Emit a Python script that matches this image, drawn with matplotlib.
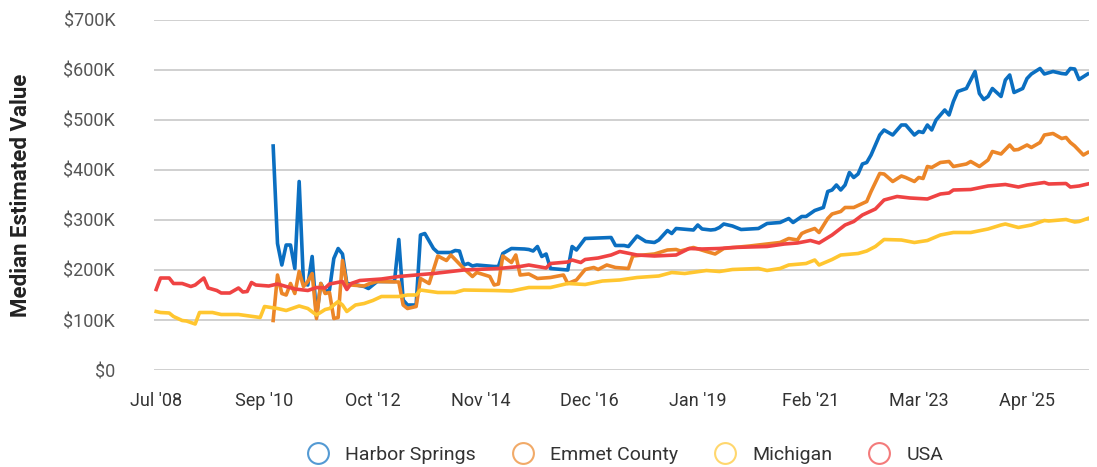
import matplotlib
matplotlib.use("Agg")
import matplotlib.pyplot as plt
from matplotlib.lines import Line2D
from matplotlib.ticker import FuncFormatter

plt.rcParams["font.family"] = ["Roboto", "DejaVu Sans"]

# x values are months since Jul 2008, y values in $K
harbor_month = [27, 28, 29, 30, 31, 32, 33, 34, 35, 36, 37, 38, 39, 40, 41, 42, 43, 44, 45, 48,
                49, 51, 55, 56, 57, 58, 60, 61, 62, 64, 65, 68, 69, 70, 71, 72, 73, 74, 78, 79,
                80, 82, 85, 86, 87, 88, 89, 90, 91, 95, 96, 97, 99, 105, 106, 108, 109, 111, 113, 115,
                116, 118, 119, 120, 124, 125, 126, 128, 129, 130, 131, 133, 135, 139, 141, 144, 146, 147, 149, 150,
                152, 154, 155, 156, 157, 158, 159, 160, 161, 162, 163, 164, 165, 167, 168, 170, 172, 173, 175, 176,
                177, 178, 179, 180, 181, 182, 183, 184, 185, 187, 189, 190, 191, 192, 193, 195, 196, 197, 198, 200,
                201, 202, 204, 205, 207, 209, 210, 211, 212, 213, 215]
harbor_value = [448, 253, 210, 250, 250, 203, 377, 173, 170, 227, 107, 173, 157, 160, 223, 243, 232, 173, 172, 167,
                163, 177, 177, 261, 140, 130, 130, 270, 273, 243, 235, 235, 239, 238, 210, 213, 208, 210, 207, 207,
                233, 243, 242, 241, 238, 247, 227, 232, 203, 200, 247, 240, 263, 265, 249, 249, 247, 268, 257, 255,
                260, 279, 273, 283, 280, 290, 282, 280, 281, 285, 292, 288, 281, 283, 293, 295, 303, 295, 307, 307,
                319, 325, 357, 360, 370, 360, 370, 395, 385, 392, 412, 415, 430, 470, 480, 470, 490, 490, 470, 477,
                475, 490, 480, 500, 510, 520, 510, 537, 557, 563, 597, 553, 541, 547, 563, 547, 580, 590, 555, 563,
                583, 592, 603, 592, 597, 593, 592, 603, 602, 581, 592]

emmet_month = [27, 28, 29, 30, 31, 32, 33, 34, 35, 36, 37, 38, 39, 40, 41, 42, 43, 44, 45, 48,
               49, 51, 56, 57, 58, 60, 61, 63, 65, 67, 68, 71, 73, 74, 77, 78, 79, 80, 82, 83,
               84, 86, 88, 91, 94, 95, 97, 99, 101, 102, 104, 106, 109, 110, 115, 118, 120, 121, 124, 127,
               129, 131, 137, 141, 144, 146, 148, 149, 150, 152, 153, 155, 156, 158, 159, 161, 164, 165, 167, 168,
               170, 172, 173, 175, 176, 177, 178, 179, 181, 183, 184, 187, 188, 190, 192, 193, 195, 197, 198, 199,
               201, 202, 204, 205, 207, 209, 210, 211, 212, 214, 215]
emmet_value = [99, 190, 153, 150, 173, 153, 197, 167, 177, 193, 103, 173, 153, 155, 103, 105, 219, 170, 170, 168,
               172, 177, 176, 130, 123, 127, 183, 173, 228, 219, 230, 203, 187, 195, 187, 170, 172, 228, 215, 230,
               190, 192, 183, 185, 190, 173, 180, 201, 205, 201, 210, 205, 203, 228, 232, 240, 241, 238, 245, 237,
               232, 243, 248, 252, 255, 263, 260, 273, 277, 283, 275, 303, 312, 317, 325, 325, 337, 357, 393, 392,
               377, 388, 385, 377, 385, 383, 407, 405, 415, 417, 407, 412, 417, 407, 420, 437, 432, 450, 440, 441,
               450, 445, 455, 470, 473, 463, 465, 455, 448, 430, 435]

michigan_month = [0, 1, 3, 4, 6, 7, 8, 9, 10, 13, 15, 19, 24, 25, 28, 30, 33, 35, 37, 39,
                  40, 42, 43, 44, 46, 48, 50, 52, 56, 58, 60, 61, 65, 69, 71, 78, 82, 86, 91, 95,
                  99, 103, 107, 111, 116, 119, 122, 127, 130, 133, 139, 141, 144, 146, 150, 152, 153, 156, 158, 162,
                  164, 166, 168, 172, 175, 178, 181, 184, 188, 192, 195, 196, 199, 202, 205, 206, 210, 212, 213, 215]
michigan_value = [117, 115, 114, 107, 99, 98, 95, 92, 115, 115, 111, 111, 105, 127, 123, 119, 128, 123, 110, 121,
                  123, 137, 130, 117, 130, 133, 139, 147, 147, 150, 150, 160, 155, 155, 160, 159, 158, 165, 165, 173,
                  171, 178, 180, 185, 188, 195, 193, 199, 197, 201, 203, 199, 203, 210, 213, 220, 210, 221, 230, 233,
                  238, 247, 261, 260, 255, 259, 270, 275, 275, 282, 290, 292, 285, 290, 299, 298, 301, 296, 297, 303]

usa_month = [0, 1, 3, 4, 6, 8, 9, 11, 12, 14, 15, 17, 19, 20, 21, 22, 23, 26, 28, 30,
             32, 35, 37, 39, 40, 43, 44, 45, 47, 52, 56, 64, 71, 79, 84, 86, 90, 91, 95, 96,
             98, 99, 102, 105, 107, 111, 115, 120, 123, 126, 130, 133, 141, 145, 148, 151, 153, 156, 159, 161,
             163, 166, 168, 171, 174, 178, 181, 183, 184, 188, 192, 196, 199, 201, 205, 206, 210, 211, 213, 215]
usa_value = [161, 184, 184, 173, 173, 167, 170, 184, 164, 159, 154, 154, 164, 156, 157, 175, 170, 168, 172, 167,
             162, 159, 165, 164, 172, 177, 161, 173, 179, 182, 187, 193, 200, 203, 207, 210, 204, 213, 216, 220,
             215, 221, 224, 230, 237, 230, 228, 230, 243, 242, 243, 245, 247, 252, 254, 259, 254, 270, 290, 297,
             310, 322, 340, 347, 344, 342, 352, 354, 360, 361, 368, 371, 366, 370, 375, 372, 373, 366, 368, 372]

tick_month = [0, 25, 50, 75, 100, 125, 151, 176, 201]
tick_label = ["Jul '08", "Sep '10", "Oct '12", "Nov '14", "Dec '16", "Jan '19", "Feb '21", "Mar '23", "Apr '25"]

series = [
    ("Harbor Springs", harbor_month, harbor_value, "#0b6fc1"),
    ("Emmet County", emmet_month, emmet_value, "#ec8628"),
    ("Michigan", michigan_month, michigan_value, "#ffc630"),
    ("USA", usa_month, usa_value, "#ef4343"),
]

fig = plt.figure(figsize=(10.97, 4.67), dpi=100)
ax = fig.add_axes([0.1404, 0.2077, 0.8523, 0.7495])

for name, xs, ys, color in series:
    ax.plot(xs, ys, color=color, lw=2.6, solid_joinstyle="round")

ax.set_xlim(-0.5, 215.3)
ax.set_ylim(0, 700)
ax.set_yticks(range(0, 701, 100))
ax.yaxis.set_major_formatter(FuncFormatter(lambda v, _: "$0" if v == 0 else f"${int(v)}K"))
ax.set_xticks(tick_month)
ax.set_xticklabels(tick_label)

ax.grid(axis="y", color="#c4c4c4", lw=1.1)
ax.set_axisbelow(True)
for s in ax.spines.values():
    s.set_visible(False)
ax.tick_params(axis="y", length=0, pad=28, labelsize=13, labelcolor="#555555")
ax.tick_params(axis="x", length=0, pad=16, labelsize=13, labelcolor="#333333")

ax.set_ylabel("Median Estimated Value", fontsize=16, fontweight="bold", color="#222222")
ax.yaxis.set_label_coords(-0.13, 0.5)

handles = [Line2D([], [], ls="none", marker="o", markersize=15, markerfacecolor="none",
                  markeredgecolor=c, markeredgewidth=1.5, alpha=0.7) for _, _, _, c in series]
fig.legend(handles, [s[0] for s in series], loc="center", bbox_to_anchor=(0.566, 0.026), ncol=4,
           frameon=False, fontsize=14, handletextpad=0.4, columnspacing=1.4, labelcolor="#333333")

fig.savefig("out.png", dpi=100)
